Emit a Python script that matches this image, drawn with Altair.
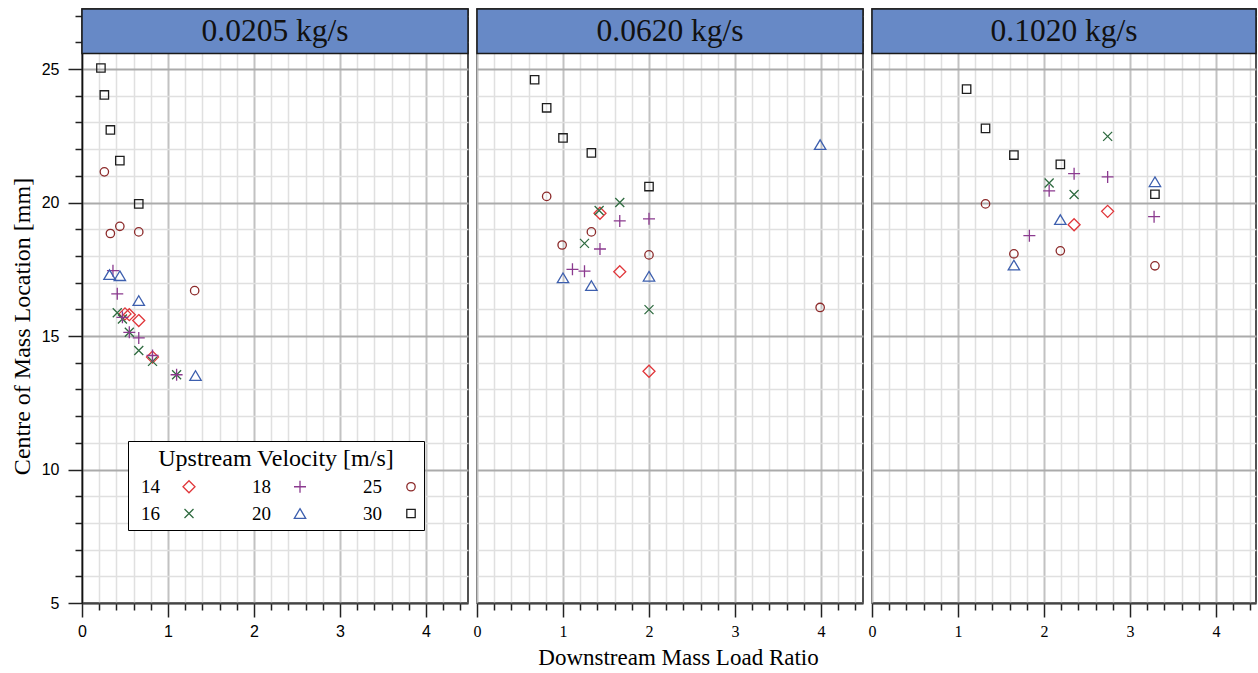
import altair as alt
import pandas as pd

# ---------------- data ----------------
PANEL_LABELS = ["0.0205 kg/s", "0.0620 kg/s", "0.1020 kg/s"]

# legend / scale order (the 3-column legend fills column by column)
VELOCITY_ORDER = ["14", "16", "18", "20", "25", "30"]
VELOCITY_COLORS = ["#e0363a", "#2f6b40", "#8b3a8f", "#3d5fae", "#8c2a2a", "#1e1e1e"]
VELOCITY_SHAPES = [
    "M0,-1L1,0L0,1L-1,0Z",                                   # 14 diamond
    "M-0.75,-0.75L0.75,0.75M-0.75,0.75L0.75,-0.75",          # 16 cross
    "M-1,0L1,0M0,-1L0,1",                                    # 18 plus
    "M0,-0.8L0.95,0.8L-0.95,0.8Z",                           # 20 triangle
    "M0.7,0A0.7,0.7,0,1,1,-0.7,0A0.7,0.7,0,1,1,0.7,0Z",      # 25 circle
    "M-0.7,-0.7L0.7,-0.7L0.7,0.7L-0.7,0.7Z",                 # 30 square
]

# Panel 0.0205 kg/s
RATIO_0205 = {
    "14": [0.50, 0.55, 0.66, 0.82],
    "16": [0.41, 0.47, 0.55, 0.66, 0.82, 1.10],
    "18": [0.36, 0.41, 0.47, 0.55, 0.66, 0.82, 1.10],
    "20": [0.32, 0.44, 0.66, 1.32],
    "25": [0.26, 0.33, 0.44, 0.66, 1.31],
    "30": [0.22, 0.26, 0.33, 0.44, 0.66],
}
COM_0205 = {
    "14": [15.83, 15.80, 15.58, 14.21],
    "16": [15.87, 15.64, 15.14, 14.46, 14.05, 13.55],
    "18": [17.45, 16.58, 15.70, 15.14, 14.93, 14.27, 13.55],
    "20": [17.30, 17.26, 16.33, 13.52],
    "25": [21.15, 18.84, 19.11, 18.90, 16.70],
    "30": [25.04, 24.03, 22.72, 21.57, 19.95],
}

# Panel 0.0620 kg/s
RATIO_0620 = {
    "14": [1.43, 1.66, 2.00],
    "16": [1.25, 1.42, 1.66, 2.00],
    "18": [1.11, 1.25, 1.43, 1.66, 2.00],
    "20": [1.00, 1.33, 2.00, 3.99],
    "25": [0.81, 0.99, 1.33, 2.00, 3.99],
    "30": [0.67, 0.81, 1.00, 1.33, 2.00],
}
COM_0620 = {
    "14": [19.60, 17.41, 13.68],
    "16": [18.47, 19.70, 20.00, 15.99],
    "18": [17.50, 17.43, 18.26, 19.31, 19.39],
    "20": [17.18, 16.89, 17.24, 22.17],
    "25": [20.23, 18.41, 18.90, 18.04, 16.07],
    "30": [24.60, 23.55, 22.42, 21.86, 20.60],
}

# Panel 0.1020 kg/s
RATIO_1020 = {
    "14": [2.35, 2.74],
    "16": [2.06, 2.35, 2.74],
    "18": [1.83, 2.06, 2.35, 2.74, 3.28],
    "20": [1.65, 2.19, 3.29],
    "25": [1.32, 1.65, 2.19, 3.29],
    "30": [1.10, 1.32, 1.65, 2.19, 3.29],
}
COM_1020 = {
    "14": [19.17, 19.67],
    "16": [20.73, 20.30, 22.48],
    "18": [18.76, 20.44, 21.08, 20.96, 19.47],
    "20": [17.66, 19.36, 20.78],
    "25": [19.95, 18.08, 18.19, 17.63],
    "30": [24.25, 22.78, 21.78, 21.43, 20.31],
}

X_TICKS = [0, 0.2, 0.4, 0.6, 0.8, 1, 1.2, 1.4, 1.6, 1.8, 2, 2.2, 2.4, 2.6, 2.8,
           3, 3.2, 3.4, 3.6, 3.8, 4, 4.2, 4.4]
Y_TICKS = [5, 6, 7, 8, 9, 10, 11, 12, 13, 14, 15, 16, 17, 18, 19, 20, 21, 22,
           23, 24, 25, 26, 27]

PANEL_RATIOS = [RATIO_0205, RATIO_0620, RATIO_1020]
PANEL_COMS = [COM_0205, COM_0620, COM_1020]

# ---------------- styling ----------------
PX_PER_UNIT = 86.0
PANEL_WIDTHS = [386, 386, 384]
PANEL_HEIGHT = 594
Y_DOMAIN = [5, 27.25]
STRIP_H = 44.5
STRIP_FILL = "#6789c6"

SERIF = "Liberation Serif"
SANS = "Liberation Sans"

IS_INT_X = "abs(datum.value - round(datum.value)) < 0.001"
IS_MAJOR_Y = "datum.value % 5 === 0"


def build_frame(ratios, coms):
    rows = []
    for v in VELOCITY_ORDER:
        for r, c in zip(ratios[v], coms[v]):
            rows.append({"ratio": r, "com": c, "vel": v})
    return pd.DataFrame(rows)


legend = alt.Legend(
    orient="none", legendX=46, legendY=432,
    columns=3, title="Upstream Velocity [m/s]",
    titleFont=SERIF, titleFontSize=24, titleFontWeight="normal", titleColor="black",
    titleAnchor="middle", titlePadding=6, titleLimit=400,
    labelFont=SERIF, labelFontSize=19, labelColor="black",
    labelOffset={"expr": "-57.5"}, symbolOffset=45.5,
    symbolSize=144, symbolStrokeWidth=1.3,
    fillColor="white", strokeColor="black", padding=6,
    columnPadding=47, rowPadding=7,
)


def panel(idx):
    width = PANEL_WIDTHS[idx]
    xmax = width / PX_PER_UNIT
    df = build_frame(PANEL_RATIOS[idx], PANEL_COMS[idx])
    first = idx == 0

    x_axis = alt.Axis(
        values=X_TICKS,
        labelExpr=f"{IS_INT_X} ? format(datum.value, '.0f') : ''",
        grid=True,
        gridColor={"condition": {"test": IS_INT_X, "value": "#c2c2c2"}, "value": "#e0e0e0"},
        gridWidth={"condition": {"test": IS_INT_X, "value": 2}, "value": 1.5},
        tickSize={"condition": {"test": IS_INT_X, "value": 14}, "value": 7},
        tickColor="#222", tickWidth=1.5,
        domainColor="#444", domainWidth=2,
        labelFont=SANS if first else SERIF, labelFontSize=16, labelColor="black",
        labelPadding=6, labelFlush=False, labelOverlap=False,
        titleFont=SERIF, titleFontSize=23, titleFontWeight="normal", titleColor="black",
        titlePadding=7, titleX=201,
    )
    if first:
        y_axis = alt.Axis(
            values=Y_TICKS,
            labelExpr=f"{IS_MAJOR_Y} ? format(datum.value, 'd') : ''",
            grid=True,
            gridColor={"condition": {"test": IS_MAJOR_Y, "value": "#ababab"}, "value": "#e0e0e0"},
            gridWidth={"condition": {"test": IS_MAJOR_Y, "value": 2}, "value": 1.5},
            tickSize={"condition": {"test": IS_MAJOR_Y, "value": 14}, "value": 7},
            tickColor="#222", tickWidth=1.5,
            domainColor="#111", domainWidth=1.5,
            labelFont=SANS, labelFontSize=16, labelColor="black",
            labelPadding=9, labelFlush=False, labelOverlap=False,
            titleFont=SERIF, titleFontSize=24, titleFontWeight="normal", titleColor="black",
            titlePadding=7, titleY=317,
        )
    else:
        y_axis = alt.Axis(
            values=Y_TICKS, grid=True, labels=False, ticks=False, domain=False,
            gridColor={"condition": {"test": IS_MAJOR_Y, "value": "#ababab"}, "value": "#e0e0e0"},
            gridWidth={"condition": {"test": IS_MAJOR_Y, "value": 2}, "value": 1.5},
        )

    points = alt.Chart(df).mark_point(filled=False, strokeWidth=1.3, size=144, opacity=1).encode(
        x=alt.X("ratio:Q", title="Downstream Mass Load Ratio" if idx == 1 else None,
                scale=alt.Scale(domain=[0, xmax], nice=False, zero=False), axis=x_axis),
        y=alt.Y("com:Q", title="Centre of Mass Location [mm]" if first else None,
                scale=alt.Scale(domain=Y_DOMAIN, nice=False, zero=False), axis=y_axis),
        shape=alt.Shape("vel:N", scale=alt.Scale(domain=VELOCITY_ORDER, range=VELOCITY_SHAPES),
                        legend=legend),
        color=alt.Color("vel:N", scale=alt.Scale(domain=VELOCITY_ORDER, range=VELOCITY_COLORS),
                        legend=legend),
    )

    strip_df = pd.DataFrame({"label": [PANEL_LABELS[idx]]})
    strip = alt.Chart(strip_df).mark_rect(fill=STRIP_FILL, stroke="#1a1a1a", strokeWidth=1.5).encode(
        x=alt.value(0), x2=alt.value(width), y=alt.value(0), y2=alt.value(STRIP_H)
    )
    strip_text = alt.Chart(strip_df).mark_text(font=SERIF, fontSize=31.5, color="#111").encode(
        text="label:N", x=alt.value(width / 2), y=alt.value(STRIP_H / 2 + 1)
    )
    return alt.layer(points, strip, strip_text).properties(width=width, height=PANEL_HEIGHT)


chart = alt.hconcat(panel(0), panel(1), panel(2), spacing=9, bounds="flush").properties(
    padding={"left": 9, "top": 6, "right": 0, "bottom": 0}
).configure_view(stroke="#1a1a1a", strokeWidth=1.5)

chart.save("out.html", embed_options={"renderer": "svg", "actions": False})
